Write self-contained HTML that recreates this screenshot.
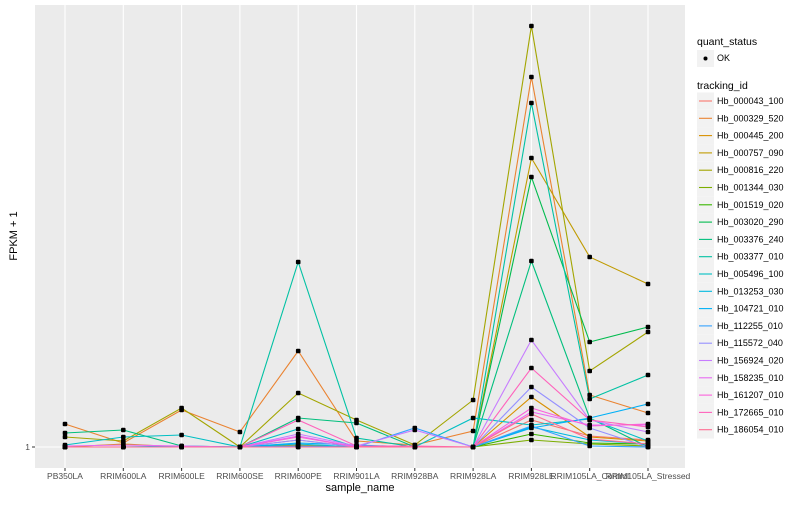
<!DOCTYPE html>
<html><head><meta charset="utf-8"><style>
body{margin:0;background:#fff;font-family:"Liberation Sans",sans-serif}
svg text{font-family:"Liberation Sans",sans-serif}
</style></head><body>
<svg id="chart" width="800" height="500" xmlns="http://www.w3.org/2000/svg">
<rect x="0" y="0" width="800" height="500" fill="#fff"/>
<rect x="35" y="5" width="650" height="463" fill="#ebebeb"/>
<g id="grid"></g><g id="lines"></g><g id="pts"></g><g id="axes"></g><g id="legend"></g>
<text x="360" y="491" font-size="11" text-anchor="middle" fill="#000">sample_name</text>
<text x="17" y="236" font-size="11" text-anchor="middle" fill="#000" transform="rotate(-90 17 236)">FPKM + 1</text>
</svg>
<script>
const categories=["PB350LA","RRIM600LA","RRIM600LE","RRIM600SE","RRIM600PE","RRIM901LA","RRIM928BA","RRIM928LA","RRIM928LE","RRIM105LA_Control","RRIM105LA_Stressed"];
const seriesNames=["Hb_000043_100","Hb_000329_520","Hb_000445_200","Hb_000757_090","Hb_000816_220","Hb_001344_030","Hb_001519_020","Hb_003020_290","Hb_003376_240","Hb_003377_010","Hb_005496_100","Hb_013253_030","Hb_104721_010","Hb_112255_010","Hb_115572_040","Hb_156924_020","Hb_158235_010","Hb_161207_010","Hb_172665_010","Hb_186054_010"];
const s0=[1,1,1,1,1.7,1,1,1,3.7,2.1,1.7];
const s1=[3.3,1.4,4.7,2.5,10.6,1.6,1.2,2.6,38,6.2,4.4];
const s2=[1,1.3,1,1,1.2,1,1,1,6,2,1.6];
const s3=[1,1,1,1,1.1,1,1,1,29.9,20,17.3];
const s4=[2,1.6,4.9,1,6.4,3.7,1.2,5.7,43.1,8.6,12.5];
const s5=[1,1,1,1,1.1,1,1,1,1.7,1.3,1.1];
const s6=[1,1,1,1,1,1,1,1,2.3,1.4,1.3];
const s7=[1,1,1,1,1,1,1,1,28,11.5,13];
const s8=[2.4,2.7,1.1,1,3.9,3.4,1,1,19.6,3.9,1];
const s9=[1,1,1,1,19.5,1.9,1,1,35.4,5.8,8.2];
const s10=[1.2,2,2.2,1,2.8,1,1,3.9,3.2,3.8,1.6];
const s11=[1,1,1,1,1.3,1,1,1,3,1.7,1.3];
const s12=[1,1,1.1,1,1.4,1.2,1,1,2.9,3.9,5.3];
const s13=[1,1,1,1,1.1,1,2.9,1,3.1,1.1,1];
const s14=[1,1,1,1,1.7,1,1,1,7,2.9,1];
const s15=[1,1,1,1,2.3,1.1,2.7,1,11.7,3.7,2.5];
const s16=[1.1,1.2,1.1,1,2.1,1,1,1,4.5,3.2,3.2];
const s17=[1,1,1,1,2,1,1,1,4.9,3.1,3.3];
const s18=[1,1,1,1,3.7,1.1,1.1,1,8.9,3.7,3];
const s19=[1,1,1,1,1,1,1,1,4.3,1.8,1.3];
const yTicks=[1];
const series=[s0,s1,s2,s3,s4,s5,s6,s7,s8,s9,s10,s11,s12,s13,s14,s15,s16,s17,s18,s19];
const colors=["#F8766D","#EA8331","#D89000","#C09B00","#A3A500","#7CAE00","#39B600","#00BB4E","#00BF7D","#00C1A3","#00BFC4","#00BAE0","#00B0F6","#35A2FF","#9590FF","#C77CFF","#E76BF3","#FA62DB","#FF62BC","#FF6C91"];
const NS="http://www.w3.org/2000/svg";
function xS(i){return 65+i*(648-65)/(categories.length-1);}
function yS(v){return 447-(v-1)*10;}
function mk(t,a,p){const e=document.createElementNS(NS,t);for(const k in a)e.setAttribute(k,a[k]);p.appendChild(e);return e;}
const grid=document.getElementById('grid'),lines=document.getElementById('lines'),pts=document.getElementById('pts'),axes=document.getElementById('axes'),leg=document.getElementById('legend');
categories.forEach((c,i)=>{
 const g=mk('line',{x1:xS(i),x2:xS(i),y1:5,y2:468,stroke:'#fff','stroke-width':1.1},grid);
 
 
 const tk=mk('line',{x1:xS(i),x2:xS(i),y1:468,y2:471,stroke:'#333'},axes);
 
 
 const t=mk('text',{x:xS(i),y:479,'font-size':8.5,'text-anchor':'middle',fill:'#4d4d4d'},axes);
 t.textContent=c;
 
 
});
yTicks.forEach(v=>{
 const g=mk('line',{x1:35,x2:685,y1:yS(v),y2:yS(v),stroke:'#fff','stroke-width':1.1},grid);
 
 
 const tk=mk('line',{x1:32,x2:35,y1:yS(v),y2:yS(v),stroke:'#333'},axes);
 
 
 const t=mk('text',{x:30,y:yS(v)+3,'font-size':8.5,'text-anchor':'end',fill:'#4d4d4d'},axes);
 t.textContent=v;
 
 
});
series.forEach((s,k)=>{
 const d=s.map((v,i)=>(i?'L':'M')+xS(i)+','+yS(v)).join(' ');
 const p=mk('path',{d:d,fill:'none',stroke:colors[k],'stroke-width':1.1},lines);
 
 
});
series.forEach((s,k)=>{s.forEach((v,i)=>{
 const c=mk('rect',{x:xS(i)-2.3,y:yS(v)-2.3,width:4.6,height:4.6,rx:1.2,fill:'#000'},pts);
 
 
});});
// legend
let t=mk('text',{x:697,y:45,'font-size':10.5,fill:'#000'},leg);t.textContent='quant_status';


mk('rect',{x:697,y:50,width:17,height:17,fill:'#f2f2f2'},leg);
mk('circle',{cx:705.5,cy:58.5,r:2,fill:'#000'},leg);
t=mk('text',{x:717,y:61,'font-size':9,fill:'#000'},leg);t.textContent='OK';


t=mk('text',{x:697,y:89,'font-size':10.5,fill:'#000'},leg);t.textContent='tracking_id';


seriesNames.forEach((n,k)=>{
 const cy=101+k*17.3;
 mk('rect',{x:697,y:cy-8.5,width:17,height:17.3,fill:'#f2f2f2'},leg);
 mk('line',{x1:699,x2:712,y1:cy,y2:cy,stroke:colors[k],'stroke-width':1.1},leg);
 const tx=mk('text',{x:717,y:cy+3,'font-size':9,fill:'#000'},leg);
 tx.textContent=n;
 
 
});
</script>
</body></html>
